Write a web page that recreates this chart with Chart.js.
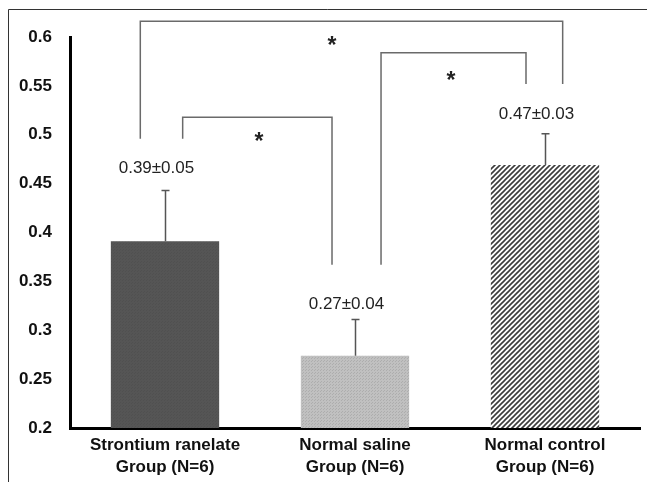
<!DOCTYPE html>
<html>
<head>
<meta charset="utf-8">
<script src="https://cdn.jsdelivr.net/npm/chart.js@4"></script>
<style>
  body { margin: 0; background: #fff; }
  #wrap { width: 647px; height: 482px; }
</style>
</head>
<body>
<div id="wrap"><canvas id="barChart" width="647" height="482"></canvas></div>
<script>
// data
const categories = [
  ["Strontium ranelate", "Group (N=6)"],
  ["Normal saline", "Group (N=6)"],
  ["Normal control", "Group (N=6)"]
];
const means = [0.391, 0.274, 0.469];
const errors = [0.052, 0.037, 0.032];
const valueLabels = ["0.39\u00b10.05", "0.27\u00b10.04", "0.47\u00b10.03"];
const valueLabelY = [0.466, 0.327, 0.521];
const tickValues = [0.2, 0.25, 0.3, 0.35, 0.4, 0.45, 0.5, 0.55, 0.6];
const tickLabels = ["0.2", "0.25", "0.3", "0.35", "0.4", "0.45", "0.5", "0.55", "0.6"];

// significance brackets (x in category units, y in axis units)
const bracketFrom = [-0.13, 0.093, 1.137];
const bracketTo = [2.093, 0.879, 1.9];
const bracketTop = [0.616, 0.518, 0.584];
const bracketLeftEnd = [0.496, 0.496, 0.367];
const bracketRightEnd = [0.552, 0.367, 0.552];
const starX = [0.879, 0.495, 1.505];
const starY = [0.597, 0.499, 0.561];

function dotPattern(base, dot) {
  const c = document.createElement("canvas");
  c.width = 3; c.height = 3;
  const g = c.getContext("2d");
  g.fillStyle = base;
  g.fillRect(0, 0, 3, 3);
  g.fillStyle = dot;
  g.fillRect(0, 0, 1, 1);
  g.fillRect(2, 1, 1, 1);
  return g.createPattern(c, "repeat");
}

function stripePattern() {
  const s = 5;
  const c = document.createElement("canvas");
  c.width = s; c.height = s;
  const g = c.getContext("2d");
  g.fillStyle = "#ffffff";
  g.fillRect(0, 0, s, s);
  g.strokeStyle = "#3c3c3c";
  g.lineWidth = 1.6;
  g.beginPath();
  g.moveTo(-1, s + 1); g.lineTo(s + 1, -1);
  g.moveTo(-1, 1); g.lineTo(1, -1);
  g.moveTo(s - 1, s + 1); g.lineTo(s + 1, s - 1);
  g.stroke();
  return g.createPattern(c, "repeat");
}

const fills = [dotPattern("#555555", "#505050"), dotPattern("#c0c0c0", "#adadad"), stripePattern()];

const extras = {
  id: "extras",
  beforeDraw(chart) {
    const ctx = chart.ctx;
    ctx.save();
    ctx.fillStyle = "#fff";
    ctx.fillRect(0, 0, chart.width, chart.height);
    ctx.strokeStyle = "#333";
    ctx.lineWidth = 1;
    ctx.beginPath();
    ctx.moveTo(8.5, chart.height);
    ctx.lineTo(8.5, 9.5);
    ctx.lineTo(chart.width, 9.5);
    ctx.stroke();
    ctx.restore();
  },
  afterDraw(chart) {
    const ctx = chart.ctx;
    const xs = chart.scales.x;
    const ys = chart.scales.y;
    const step = xs.getPixelForValue(1) - xs.getPixelForValue(0);
    const xAt = (v) => xs.getPixelForValue(0) + v * step;
    ctx.save();

    // error bars (upper only)
    ctx.strokeStyle = "#555";
    ctx.lineWidth = 1.5;
    means.forEach((m, i) => {
      const x = Math.round(xs.getPixelForValue(i)) + 0.5;
      const y0 = ys.getPixelForValue(m);
      const y1 = ys.getPixelForValue(m + errors[i]);
      ctx.beginPath();
      ctx.moveTo(x, y0);
      ctx.lineTo(x, y1);
      ctx.moveTo(x - 4, y1);
      ctx.lineTo(x + 4, y1);
      ctx.stroke();
    });

    // value labels
    ctx.fillStyle = "#222";
    ctx.font = "17px 'Liberation Sans', Arial, sans-serif";
    ctx.textAlign = "center";
    ctx.textBaseline = "middle";
    valueLabels.forEach((t, i) => {
      ctx.fillText(t, xAt(i - 0.045), ys.getPixelForValue(valueLabelY[i]));
    });

    // brackets
    ctx.strokeStyle = "#6a6a6a";
    ctx.lineWidth = 1.5;
    bracketFrom.forEach((f, i) => {
      const xl = xAt(f), xr = xAt(bracketTo[i]);
      ctx.beginPath();
      ctx.moveTo(xl, ys.getPixelForValue(bracketLeftEnd[i]));
      ctx.lineTo(xl, ys.getPixelForValue(bracketTop[i]));
      ctx.lineTo(xr, ys.getPixelForValue(bracketTop[i]));
      ctx.lineTo(xr, ys.getPixelForValue(bracketRightEnd[i]));
      ctx.stroke();
    });

    // stars
    ctx.fillStyle = "#222";
    ctx.font = "bold 23px 'Liberation Sans', Arial, sans-serif";
    ctx.textBaseline = "alphabetic";
    starX.forEach((sx, i) => {
      ctx.fillText("*", xAt(sx), ys.getPixelForValue(starY[i]) + 13);
    });
    ctx.restore();
  }
};

const ctx = document.getElementById("barChart");
new Chart(ctx, {
  type: "bar",
  data: {
    labels: categories,
    datasets: [
      {
        data: means,
        backgroundColor: fills,
        borderWidth: 0,
        barPercentage: 0.57,
        categoryPercentage: 1.0,
      },
    ],
  },
  options: {
    responsive: false,
    animation: false,
    events: [],
    layout: { padding: { top: 37, right: 7, left: 0, bottom: 0 } },
    plugins: { legend: { display: false }, tooltip: { enabled: false } },
    scales: {
      x: {
        grid: { display: false, drawTicks: false },
        border: { display: true, color: "#000", width: 3 },
        ticks: {
          color: "#111",
          padding: 7,
          maxRotation: 0,
          autoSkip: false,
          font: { family: "'Liberation Sans', Arial, sans-serif", size: 17, weight: "bold", lineHeight: 1.25 },
        },
        afterFit(scale) { scale.height = 54; },
      },
      y: {
        min: 0.2,
        max: 0.6,
        grid: { display: false, drawTicks: false },
        border: { display: true, color: "#000", width: 3 },
        ticks: {
          color: "#111",
          padding: 18,
          font: { family: "'Liberation Sans', Arial, sans-serif", size: 17, weight: "bold" },
          callback: (v) => {
            const k = tickValues.findIndex((t) => Math.abs(t - v) < 1e-9);
            return k >= 0 ? tickLabels[k] : "";
          },
        },
        afterBuildTicks(scale) { scale.ticks = tickValues.map((v) => ({ value: v })); },
        afterFit(scale) { scale.width = 70; },
      },
    },
  },
  plugins: [extras],
});
</script>
</body>
</html>
